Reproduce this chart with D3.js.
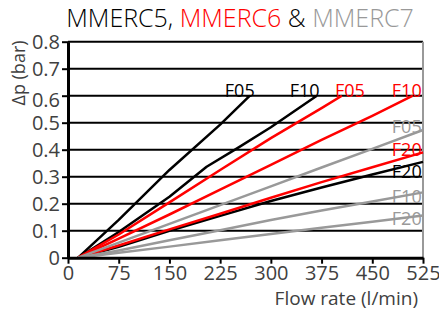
<!DOCTYPE html>
<html>
<head>
<meta charset="utf-8">
<script src="https://cdn.jsdelivr.net/npm/d3@7"></script>
<style>
  body { margin: 0; background: #fff; }
  text { font-family: "Open Sans", sans-serif; }
</style>
</head>
<body>
<svg id="canvas"></svg>
<script>
// flow rate (l/min) and pressure drop (bar)
const flows = [15, 75, 150, 225, 300, 375, 450, 525]

const series = [
  { name: 'F05', model: 'MMERC5', flow: [15, 75, 150, 225, 269], dp: [0, 0.14, 0.325, 0.493, 0.6] },
  { name: 'F10', model: 'MMERC5', flow: [15, 75, 150, 205, 250, 300, 368], dp: [0, 0.095, 0.226, 0.337, 0.405, 0.483, 0.6] },
  { name: 'F20', model: 'MMERC5', flow: flows, dp: [0, 0.04, 0.1, 0.155, 0.21, 0.26, 0.308, 0.355] },
  { name: 'F05', model: 'MMERC6', flow: [15, 75, 150, 225, 300, 375, 405], dp: [0, 0.086, 0.205, 0.325, 0.443, 0.554, 0.6] },
  { name: 'F10', model: 'MMERC6', flow: [15, 75, 150, 225, 300, 375, 450, 510], dp: [0, 0.071, 0.16, 0.252, 0.344, 0.436, 0.525, 0.6] },
  { name: 'F20', model: 'MMERC6', flow: flows, dp: [0, 0.045, 0.105, 0.163, 0.222, 0.28, 0.335, 0.39] },
  { name: 'F05', model: 'MMERC7', flow: flows, dp: [0, 0.056, 0.125, 0.195, 0.264, 0.334, 0.403, 0.473] },
  { name: 'F10', model: 'MMERC7', flow: flows, dp: [0, 0.027, 0.065, 0.102, 0.14, 0.175, 0.208, 0.242] },
  { name: 'F20', model: 'MMERC7', flow: flows, dp: [0, 0.018, 0.041, 0.065, 0.088, 0.111, 0.133, 0.156] }
]

// where each curve label sits (flow, dp)
const labelFlow = [254, 350, 501, 417, 501, 501, 501, 501, 501]
const labelDp = [0.595, 0.595, 0.295, 0.595, 0.595, 0.377, 0.462, 0.203, 0.121]

const xTicks = [0, 75, 150, 225, 300, 375, 450, 525]
const yTicks = [0, 0.1, 0.2, 0.3, 0.4, 0.5, 0.6, 0.7, 0.8]

const colors = { MMERC5: '#000000', MMERC6: '#ff0000', MMERC7: '#999999' }

let width = 439,
height = 314

let margin = { top: 41.7, right: 16, bottom: 56.3, left: 68 }

let canvas = d3.select('#canvas')
  .attr('width', width)
  .attr('height', height)

let x = d3.scaleLinear().domain([0, 525]).range([margin.left, width - margin.right])
let y = d3.scaleLinear().domain([0, 0.8]).range([height - margin.bottom, margin.top])

// title
let title = canvas.append('text')
  .attr('x', 240)
  .attr('y', 27)
  .attr('text-anchor', 'middle')
  .style('font-size', '25px')
  .style('font-weight', 300)
title.append('tspan').attr('fill', colors.MMERC5).text('MMERC5, ')
title.append('tspan').attr('fill', colors.MMERC6).text('MMERC6')
title.append('tspan').attr('fill', '#000').text(' & ')
title.append('tspan').attr('fill', colors.MMERC7).text('MMERC7')

// grid lines
canvas.append('g')
  .selectAll('line')
  .data(yTicks.slice(1))
  .enter().append('line')
  .attr('x1', x(0))
  .attr('x2', x(525))
  .attr('y1', d => y(d))
  .attr('y2', d => y(d))
  .attr('stroke', '#000')
  .attr('stroke-width', 2)

// right border
canvas.append('line')
  .attr('x1', x(525)).attr('x2', x(525))
  .attr('y1', y(0.8)).attr('y2', y(0))
  .attr('stroke', '#999')
  .attr('stroke-width', 2)

// curves
let line = d3.line()
  .x(d => x(d[0]))
  .y(d => y(d[1]))

canvas.append('g')
  .selectAll('path')
  .data(series)
  .enter().append('path')
  .attr('d', s => line(s.flow.map((f, i) => [f, s.dp[i]])))
  .attr('fill', 'none')
  .attr('stroke', s => colors[s.model])
  .attr('stroke-width', 2.5)
  .attr('stroke-linejoin', 'round')

canvas.append('g')
  .selectAll('text')
  .data(series)
  .enter().append('text')
  .attr('x', (s, i) => x(labelFlow[i]))
  .attr('y', (s, i) => y(labelDp[i]))
  .attr('text-anchor', 'middle')
  .attr('fill', s => colors[s.model])
  .style('font-size', '18px')
  .text(s => s.name)

// axes
let xAxis = canvas.append('g')
  .attr('transform', `translate(0, ${y(0)})`)
  .call(d3.axisBottom(x).tickValues(xTicks).tickSize(6).tickSizeOuter(0).tickPadding(2))
xAxis.select('.domain').attr('stroke', '#000').attr('stroke-width', 3)
xAxis.selectAll('.tick line').attr('stroke', '#000').attr('stroke-width', 2)
xAxis.selectAll('.tick text').attr('fill', '#404040').style('font-size', '20px').style('font-family', '"Open Sans", sans-serif')

let yAxis = canvas.append('g')
  .attr('transform', `translate(${x(0)}, 0)`)
  .call(d3.axisLeft(y).tickValues(yTicks).tickFormat(d => d === 0 ? '0' : d3.format('.1f')(d)).tickSize(6).tickSizeOuter(0).tickPadding(2))
yAxis.select('.domain').attr('stroke', '#000').attr('stroke-width', 3)
yAxis.selectAll('.tick line').attr('stroke', '#000').attr('stroke-width', 2)
yAxis.selectAll('.tick text')
  .attr('fill', '#404040')
  .style('font-size', '20px')
  .style('font-family', '"Open Sans", sans-serif')
  .attr('dy', d => d === 0.6 ? '0.55em' : '0.32em')

// axis titles
canvas.append('text')
  .attr('transform', 'translate(25, 73) rotate(-90)')
  .attr('text-anchor', 'middle')
  .attr('fill', '#404040')
  .style('font-size', '18px')
  .text('Δp (bar)')

canvas.append('text')
  .attr('x', 418)
  .attr('y', 305)
  .attr('text-anchor', 'end')
  .attr('fill', '#404040')
  .style('font-size', '19px')
  .text('Flow rate (l/min)')
</script>
</body>
</html>
